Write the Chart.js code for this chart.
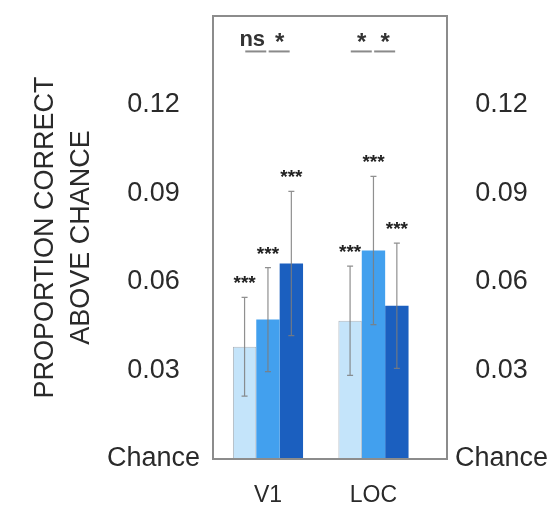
<!DOCTYPE html>
<html>
<head>
<meta charset="utf-8">
<script src="https://cdn.jsdelivr.net/npm/chart.js@4.4.0/dist/chart.umd.min.js"></script>
<style>
  html, body { margin: 0; padding: 0; background: #fff; }
</style>
</head>
<body>
<canvas id="myChart" width="554" height="508"></canvas>
<script>
// data
var regions = ['V1', 'LOC']
var lightVals = [0.038, 0.0468]
var midVals = [0.0472, 0.0706]
var darkVals = [0.0662, 0.0519]
var lightErr = [0.0167, 0.0185]
var midErr = [0.0176, 0.0251]
var darkErr = [0.0244, 0.0212]
var barStars = ['***', '***']
var pairSig = [['ns', '*'], ['*', '*']]
var yTicks = [0, 0.03, 0.06, 0.09, 0.12]

var FONT = "'Liberation Sans', Arial, Helvetica, sans-serif"
var sigLineVal = 0.138

var vals = [lightVals, midVals, darkVals]
var errs = [lightErr, midErr, darkErr]

var toPoints = arr => arr.map((v, i) => ({x: i, y: v}))

var tickLabel = v => v === 0 ? 'Chance' : v.toFixed(2)

var frameAndMarks = {
    id: 'frameAndMarks',
    afterDatasetsDraw(chart) {
        var ctx = chart.ctx
        var ys = chart.scales.y
        var a = chart.chartArea
        ctx.save()

        // error bars + stars
        for (var d = 0; d < vals.length; d++) {
            var meta = chart.getDatasetMeta(d)
            meta.data.forEach((el, i) => {
                var top = ys.getPixelForValue(vals[d][i] + errs[d][i])
                var bot = ys.getPixelForValue(vals[d][i] - errs[d][i])
                ctx.strokeStyle = 'rgba(125,125,125,0.85)'
                ctx.lineWidth = 1.2
                ctx.beginPath()
                ctx.moveTo(el.x, top); ctx.lineTo(el.x, bot)
                ctx.moveTo(el.x - 3, top); ctx.lineTo(el.x + 3, top)
                ctx.moveTo(el.x - 3, bot); ctx.lineTo(el.x + 3, bot)
                ctx.stroke()
                ctx.fillStyle = '#222'
                ctx.font = 'bold 19px ' + FONT
                ctx.textAlign = 'center'
                ctx.textBaseline = 'alphabetic'
                ctx.fillText(barStars[i], el.x, top - 8)
            })
        }

        // pairwise comparisons
        var ly = ys.getPixelForValue(sigLineVal)
        regions.forEach((r, i) => {
            for (var p = 0; p < 2; p++) {
                var x1 = chart.getDatasetMeta(p).data[i].x
                var x2 = chart.getDatasetMeta(p + 1).data[i].x
                var mid = (x1 + x2) / 2
                ctx.strokeStyle = '#8a8a8a'
                ctx.lineWidth = 2
                ctx.beginPath()
                ctx.moveTo(mid - 11, ly); ctx.lineTo(mid + 10, ly)
                ctx.stroke()
                var s = pairSig[i][p]
                ctx.fillStyle = '#333'
                ctx.textAlign = 'center'
                ctx.textBaseline = 'alphabetic'
                if (s === 'ns') {
                    ctx.font = 'bold 22px ' + FONT
                    ctx.fillText(s, mid - 4, ly - 5)
                } else {
                    ctx.font = 'bold 24px ' + FONT
                    ctx.fillText(s, mid, ly - 1)
                }
            }
        })

        // frame
        ctx.strokeStyle = '#8c8c8c'
        ctx.lineWidth = 2
        ctx.strokeRect(a.left, a.top, a.right - a.left, a.bottom - a.top)
        ctx.restore()
    }
}

var yAxis = (pos, w, pad) => ({
    position: pos,
    min: 0,
    max: 0.15,
    afterBuildTicks: s => { s.ticks = yTicks.map(v => ({value: v})) },
    afterFit: s => { s.width = w; s.paddingTop = 0; s.paddingBottom = 0 },
    grid: {display: false, drawTicks: false},
    border: {display: false},
    ticks: {
        callback: tickLabel,
        crossAlign: 'center',
        padding: pad,
        color: '#2a2a2a',
        font: {family: FONT, size: 27}
    }
})

var yLeft = yAxis('left', 213, 13)
yLeft.title = {
    display: true,
    text: ['PROPORTION CORRECT', 'ABOVE CHANCE'],
    color: '#2a2a2a',
    font: {family: FONT, size: 27, lineHeight: 1.32},
    padding: {top: 28, bottom: 0}
}

var ctx = document.getElementById('myChart')
var myChart = new Chart(ctx, {
    type: 'bar',
    data: {
        datasets: [{
            data: toPoints(lightVals),
            backgroundColor: '#c4e4fa',
            borderColor: 'rgba(140,150,160,0.7)',
            borderWidth: 1
        }, {
            data: toPoints(midVals),
            backgroundColor: '#42a0ee',
            borderWidth: 0
        }, {
            data: toPoints(darkVals),
            backgroundColor: '#1b5fbf',
            borderWidth: 0
        }]
    },
    options: {
        responsive: false,
        animation: false,
        layout: {padding: {top: 16, left: 0, right: 0, bottom: 0}},
        plugins: {legend: {display: false}, tooltip: {enabled: false}},
        datasets: {bar: {categoryPercentage: 0.665, barPercentage: 1}},
        scales: {
            x: {
                type: 'linear',
                offset: false,
                bounds: 'data',
                min: -0.521,
                max: 1.697,
                afterBuildTicks: s => { s.ticks = regions.map((r, i) => ({value: i})) },
                afterFit: s => { s.height = 49; s.paddingLeft = 0; s.paddingRight = 0 },
                grid: {display: false},
                border: {display: false},
                ticks: {
                    callback: v => regions[v],
                    padding: 15,
                    color: '#2a2a2a',
                    font: {family: FONT, size: 23}
                }
            },
            y: yLeft,
            y2: yAxis('right', 107, 8)
        }
    },
    plugins: [frameAndMarks]
})
</script>
</body>
</html>
